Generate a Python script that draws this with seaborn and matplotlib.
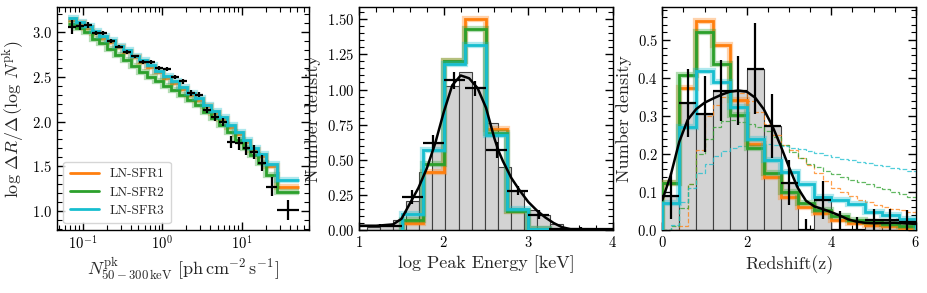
import numpy as np
import matplotlib
matplotlib.use('Agg')
import matplotlib.pyplot as plt
import seaborn as sns
from matplotlib.ticker import MultipleLocator, AutoMinorLocator

# ---------------- data ----------------
# left panel: log N^pk bins (log10 edges)
flux_edges = [-1.19, -1.09, -0.99, -0.89, -0.79, -0.69, -0.59, -0.49, -0.39, -0.29,
              -0.19, -0.09, 0.01, 0.11, 0.21, 0.31, 0.41, 0.51, 0.61, 0.71,
              0.81, 0.91, 1.01, 1.11, 1.21, 1.31, 1.445, 1.72]
flux_sfr1 = [3.14, 3.10, 3.05, 2.99, 2.94, 2.89, 2.83, 2.78, 2.72, 2.67, 2.61, 2.55, 2.49, 2.43,
             2.37, 2.30, 2.24, 2.17, 2.10, 2.03, 1.94, 1.86, 1.77, 1.68, 1.61, 1.50, 1.27]
flux_sfr2 = [3.09, 3.05, 3.00, 2.93, 2.88, 2.81, 2.75, 2.69, 2.62, 2.56, 2.50, 2.45, 2.40, 2.35,
             2.30, 2.24, 2.19, 2.11, 2.04, 1.96, 1.88, 1.79, 1.70, 1.62, 1.53, 1.40, 1.21]
flux_sfr3 = [3.16, 3.12, 3.07, 3.01, 2.96, 2.91, 2.85, 2.80, 2.74, 2.69, 2.63, 2.57, 2.51, 2.45,
             2.39, 2.32, 2.26, 2.19, 2.12, 2.05, 1.96, 1.88, 1.79, 1.70, 1.64, 1.52, 1.34]
flux_obs = [3.06, 3.07, 3.08, 2.99, 2.99, 2.90, 2.84, 2.78, 2.73, 2.67, 2.67, 2.60, 2.59, 2.50,
            2.45, 2.32, 2.30, 2.13, 2.05, 2.00, 1.77, 1.755, 1.70, 1.66, 1.53, 1.27, 1.01]
flux_obs_err = [0.08, 0.04, 0.03, 0.025, 0.02, 0.02, 0.02, 0.02, 0.02, 0.02, 0.02, 0.02, 0.02,
                0.025, 0.025, 0.03, 0.03, 0.035, 0.04, 0.045, 0.07, 0.075, 0.07, 0.08, 0.09, 0.11, 0.11]

# middle panel: log Ep
ep_edges = [1.5, 1.75, 2.0, 2.25, 2.5, 2.75, 3.0, 3.25]
ep_sfr1 = [0.047, 0.41, 1.20, 1.50, 0.717, 0.135, 0.01]
ep_sfr2 = [0.07, 0.47, 1.20, 1.43, 0.69, 0.135, 0.01]
ep_sfr3 = [0.114, 0.57, 1.18, 1.32, 0.676, 0.147, 0.01]
ep_hist_edges = [1.09, 1.245, 1.40, 1.555, 1.71, 1.865, 2.02, 2.175, 2.33, 2.485,
                 2.64, 2.795, 2.95, 3.105, 3.26, 3.415]
ep_hist = [0.02, 0.03, 0.07, 0.205, 0.415, 0.62, 1.025, 1.125, 1.02, 0.765, 0.45, 0.275,
           0.145, 0.11, 0.043]
ep_pts_x = [1.25, 1.625, 1.875, 2.125, 2.375, 2.625, 2.875, 3.125, 3.625]
ep_pts_xerr = [0.25, 0.125, 0.125, 0.125, 0.125, 0.125, 0.125, 0.125, 0.375]
ep_pts_y = [0.03, 0.233, 0.622, 1.065, 1.01, 0.57, 0.28, 0.11, 0.01]
ep_pts_yerr = [0.01, 0.05, 0.053, 0.063, 0.053, 0.055, 0.033, 0.03, 0.008]
ep_kde_x = [1.0, 1.2, 1.4, 1.5, 1.6, 1.7, 1.8, 1.9, 2.0, 2.1, 2.2, 2.3, 2.4, 2.5,
            2.55, 2.6, 2.65, 2.7, 2.8, 2.9, 3.0, 3.1, 3.2, 3.3, 3.4, 3.5, 4.0]
ep_kde_y = [0.03, 0.03, 0.04, 0.08, 0.19, 0.30, 0.44, 0.62, 0.84, 1.03, 1.10, 1.08, 1.01, 0.87,
            0.76, 0.65, 0.56, 0.49, 0.37, 0.28, 0.20, 0.14, 0.09, 0.05, 0.02, 0.006, 0.005]

# right panel: redshift
z_edges = [0.0, 0.4, 0.8, 1.2, 1.6, 2.0, 2.4, 2.8, 3.2, 3.6, 4.0, 4.4, 4.8, 5.2, 5.6, 6.0]
z_sfr1 = [0.123, 0.375, 0.551, 0.487, 0.342, 0.226, 0.14, 0.088, 0.061, 0.044, 0.026, 0.019,
          0.014, 0.011, 0.006]
z_sfr2 = [0.123, 0.408, 0.522, 0.436, 0.303, 0.215, 0.151, 0.10, 0.072, 0.053, 0.037, 0.026,
          0.021, 0.016, 0.011]
z_sfr3 = [0.07, 0.272, 0.419, 0.39, 0.325, 0.239, 0.184, 0.152, 0.12, 0.088, 0.08, 0.068,
          0.048, 0.039, 0.03]
z_hist = [0.089, 0.335, 0.304, 0.367, 0.367, 0.425, 0.274, 0.125, 0.0, 0.079, 0.0, 0.0,
          0.026, 0.026, 0.022]
z_pts_x = [0.2, 0.6, 1.0, 1.4, 1.8, 2.2, 2.6, 3.0, 3.4, 3.8, 4.2, 4.6, 5.0, 5.4, 5.8]
z_pts_y = [0.089, 0.335, 0.304, 0.367, 0.367, 0.425, 0.274, 0.125, 0.0, 0.079, 0.0, 0.0,
           0.026, 0.026, 0.022]
z_pts_yerr = [0.06, 0.09, 0.10, 0.08, 0.09, 0.12, 0.085, 0.06, 0.03, 0.05, 0.05, 0.035,
              0.03, 0.03, 0.03]
z_kde_x = [0.0, 0.2, 0.4, 0.6, 0.8, 1.0, 1.2, 1.4, 1.6, 1.8, 2.0, 2.2, 2.4, 2.6, 2.8, 3.0,
           3.2, 3.4, 3.6, 3.8, 4.0, 4.2, 4.4, 4.6, 4.8, 5.0, 5.5, 6.0]
z_kde_y = [0.079, 0.145, 0.232, 0.29, 0.318, 0.335, 0.346, 0.356, 0.364, 0.367, 0.364, 0.348,
           0.318, 0.275, 0.222, 0.165, 0.112, 0.077, 0.062, 0.055, 0.047, 0.038, 0.028, 0.022,
           0.019, 0.018, 0.019, 0.016]
zd_edges = [round(0.2 * i, 1) for i in range(31)]
zd_sfr1 = [0.0, 0.0, 0.01, 0.12, 0.21, 0.30, 0.33, 0.35, 0.365, 0.36, 0.34, 0.31, 0.28, 0.25,
           0.225, 0.21, 0.19, 0.17, 0.15, 0.13, 0.11, 0.10, 0.09, 0.08, 0.073, 0.066, 0.06,
           0.056, 0.052, 0.048]
zd_sfr2 = [0.0, 0.01, 0.057, 0.12, 0.20, 0.24, 0.272, 0.288, 0.29, 0.285, 0.278, 0.27, 0.26,
           0.245, 0.225, 0.205, 0.19, 0.175, 0.165, 0.155, 0.148, 0.14, 0.132, 0.126, 0.12,
           0.114, 0.108, 0.10, 0.094, 0.088]
zd_sfr3 = [0.0, 0.012, 0.075, 0.11, 0.15, 0.175, 0.195, 0.208, 0.215, 0.22, 0.225, 0.227,
           0.226, 0.224, 0.22, 0.216, 0.212, 0.207, 0.202, 0.197, 0.192, 0.188, 0.184, 0.18,
           0.176, 0.172, 0.168, 0.164, 0.16, 0.156]

labels = ['LN-SFR1', 'LN-SFR2', 'LN-SFR3']
colors = ['#ff7f0e', '#2ca02c', '#17becf']

# ---------------- style ----------------
sns.set_style('ticks')
plt.rcParams['font.family'] = 'serif'
plt.rcParams['font.serif'] = ['cmr10', 'DejaVu Serif']
plt.rcParams['mathtext.fontset'] = 'cm'
plt.rcParams['axes.formatter.use_mathtext'] = True
plt.rcParams['axes.unicode_minus'] = False
plt.rcParams['axes.linewidth'] = 1.0


def style_axis(ax):
    ax.tick_params(which='both', direction='in', top=True, right=True, labelsize=10.5, colors='k')
    ax.tick_params(which='major', length=6, width=1)
    ax.tick_params(which='minor', length=3.5, width=0.8)
    for s in ax.spines.values():
        s.set_color('k')


def halo_steps(ax, vals, edges, color, label=None, baseline=0):
    ax.stairs(vals, edges, color=color, lw=4.5, alpha=0.35, baseline=baseline, zorder=3)
    ax.stairs(vals, edges, color=color, lw=2, baseline=baseline, zorder=3, label=label)


fig = plt.figure(figsize=(9.27, 2.93), dpi=100)
ax0 = fig.add_axes([0.0612, 0.215, 0.2722, 0.760])
ax1 = fig.add_axes([0.3876, 0.215, 0.2734, 0.760])
ax2 = fig.add_axes([0.7145, 0.215, 0.2734, 0.760])

# ---------------- left ----------------
fe = 10 ** np.array(flux_edges)
for vals, c, lab in zip([flux_sfr1, flux_sfr2, flux_sfr3], colors, labels):
    halo_steps(ax0, vals, fe, c, lab, baseline=None)
lo = np.array(flux_edges[:-1])
hi = np.array(flux_edges[1:])
xc = 10 ** ((lo + hi) / 2)
ax0.errorbar(xc, flux_obs, xerr=[xc - 10 ** lo, 10 ** hi - xc], yerr=flux_obs_err,
             fmt='none', ecolor='k', elinewidth=1.6, zorder=5)
ax0.set_xscale('log')
ax0.set_xlim(0.047, 70.4)
ax0.set_ylim(0.784, 3.28)
ax0.yaxis.set_major_locator(MultipleLocator(0.5))
ax0.yaxis.set_minor_locator(MultipleLocator(0.1))
ax0.set_ylabel(r'$\log\,\Delta R/\Delta\,(\log\,N^{\rm pk})$', fontsize=13)
ax0.set_xlabel(r'$N^{\rm pk}_{50-300\,{\rm keV}}\ [{\rm ph\,cm^{-2}\,s^{-1}}]$', fontsize=13,
               labelpad=2)
style_axis(ax0)
leg = ax0.legend(loc='lower left', fontsize=9.5, handlelength=2.2, borderpad=0.5,
                 labelspacing=0.45, framealpha=0.8, edgecolor='0.8', fancybox=True)

# ---------------- middle ----------------
ep_c = (np.array(ep_hist_edges[:-1]) + np.array(ep_hist_edges[1:])) / 2
sns.histplot(x=ep_c, weights=ep_hist, bins=ep_hist_edges, color='lightgrey', edgecolor='0.25',
             linewidth=0.8, alpha=1, ax=ax1, zorder=1)
for vals, c in zip([ep_sfr1, ep_sfr2, ep_sfr3], colors):
    halo_steps(ax1, vals, ep_edges, c)
sns.lineplot(x=ep_kde_x, y=ep_kde_y, color='k', lw=1.8, ax=ax1, zorder=6)
ax1.errorbar(ep_pts_x, ep_pts_y, xerr=ep_pts_xerr, yerr=ep_pts_yerr, fmt='none', ecolor='k',
             elinewidth=1.6, zorder=6)
ax1.set_xlim(1, 4)
ax1.set_ylim(0, 1.585)
ax1.xaxis.set_major_locator(MultipleLocator(1))
ax1.xaxis.set_minor_locator(MultipleLocator(0.2))
ax1.yaxis.set_major_locator(MultipleLocator(0.25))
ax1.yaxis.set_minor_locator(MultipleLocator(0.05))
ax1.set_xlabel('log Peak Energy [keV]', fontsize=13)
ax1.set_ylabel('Number density', fontsize=13)
style_axis(ax1)

# ---------------- right ----------------
z_c = (np.array(z_edges[:-1]) + np.array(z_edges[1:])) / 2
sns.histplot(x=z_c, weights=z_hist, bins=z_edges, color='lightgrey', edgecolor='0.25',
             linewidth=0.8, alpha=1, ax=ax2, zorder=1)
for vals, c in zip([zd_sfr1, zd_sfr2, zd_sfr3], colors):
    ax2.stairs(vals, zd_edges, color=c, lw=0.9, ls='--', alpha=0.75, baseline=None, zorder=2)
for vals, c in zip([z_sfr1, z_sfr2, z_sfr3], colors):
    halo_steps(ax2, vals, z_edges, c)
sns.lineplot(x=z_kde_x, y=z_kde_y, color='k', lw=1.8, ax=ax2, zorder=6)
ax2.errorbar(z_pts_x, z_pts_y, xerr=0.2, yerr=z_pts_yerr, fmt='none', ecolor='k',
             elinewidth=1.6, zorder=6)
ax2.set_xlim(0, 6)
ax2.set_ylim(0, 0.586)
ax2.xaxis.set_major_locator(MultipleLocator(2))
ax2.xaxis.set_minor_locator(MultipleLocator(0.5))
ax2.yaxis.set_major_locator(MultipleLocator(0.1))
ax2.yaxis.set_minor_locator(MultipleLocator(0.02))
ax2.set_xlabel('Redshift(z)', fontsize=13)
ax2.set_ylabel('Number density', fontsize=13)
style_axis(ax2)

fig.savefig('out.png', dpi=100)
plt.close()
